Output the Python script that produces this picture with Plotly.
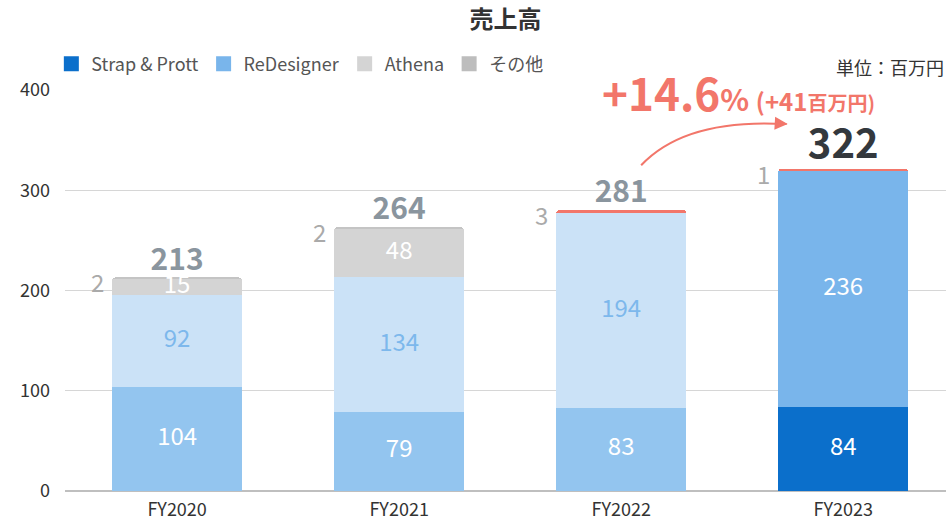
import plotly.graph_objects as go
import numpy as np

categories = ["FY2020", "FY2021", "FY2022", "FY2023"]
strap = [104, 79, 83, 84]
redesigner = [92, 134, 194, 236]
athena = [15, 48, 0, 0]
other = [2, 2, 3, 1]
totals = [213, 264, 281, 322]
y_ticks = [0, 100, 200, 300, 400]
growth_pct = "+14.6"
growth_abs = "+41"

FONT = "Noto Sans CJK JP"
SALMON = "#f2766a"
x = list(range(len(categories)))

strap_colors = ["#93c5ef", "#93c5ef", "#93c5ef", "#0b6fcb"]
red_colors = ["#cbe2f7", "#cbe2f7", "#cbe2f7", "#79b5eb"]
ath_colors = ["#d4d4d4"] * 4
oth_colors = ["#c4c4c4", "#c4c4c4", SALMON, SALMON]

fig = go.Figure()
series = [(strap, strap_colors), (redesigner, red_colors), (athena, ath_colors), (other, oth_colors)]
for vals, cols in series:
    fig.add_trace(go.Bar(x=x, y=vals, marker=dict(color=cols, line=dict(width=0)),
                         showlegend=False, hoverinfo="skip"))

# segment labels
base = np.zeros(len(x))
lab_x, lab_y, lab_t, lab_c = [], [], [], []
label_colors = [["#ffffff"] * 4, ["#7db8ec", "#7db8ec", "#7db8ec", "#ffffff"], ["#ffffff"] * 4]
for (vals, _), lc in zip(series[:3], label_colors):
    for i, v in enumerate(vals):
        if v > 0:
            lab_x.append(x[i]); lab_y.append(base[i] + v / 2); lab_t.append(str(v)); lab_c.append(lc[i])
    base = base + np.array(vals)
fig.add_trace(go.Scatter(x=lab_x, y=lab_y, text=lab_t, mode="text",
                         textfont=dict(family=FONT, size=24, color=lab_c),
                         showlegend=False, hoverinfo="skip", cliponaxis=False))

# totals
fig.add_trace(go.Scatter(x=x, y=totals, text=[f"<b>{t}</b>" for t in totals], mode="text",
                         textposition="top center",
                         textfont=dict(family=FONT, size=[30, 30, 30, 40],
                                       color=["#8a959e", "#8a959e", "#8a959e", "#33383d"]),
                         showlegend=False, hoverinfo="skip", cliponaxis=False))

# legend entries
legend_items = [("Strap & Prott", "#0b6fcb"), ("ReDesigner", "#79b5eb"), ("Athena", "#d4d4d4"), ("その他", "#bdbdbd")]
for name, col in legend_items:
    fig.add_trace(go.Scatter(x=[None], y=[None], mode="markers", name=name,
                             marker=dict(symbol="square", size=15, color=col)))

annotations = []
# small "other" labels left of the bar top
stack_top = np.array(strap) + np.array(redesigner) + np.array(athena) + np.array(other)
for i, v in enumerate(other):
    annotations.append(dict(x=x[i], y=stack_top[i], text=str(v), showarrow=False, xshift=-80, yshift=-4,
                            xanchor="center", yanchor="middle",
                            font=dict(family=FONT, size=24, color="#aaaaaa")))

annotations.append(dict(xref="paper", yref="paper", x=1, y=1.057, text="単位：百万円", showarrow=False,
                        xanchor="right", yanchor="middle", font=dict(family=FONT, size=18, color="#333333")))

annotations.append(dict(x=1.905, y=398, xanchor="left", yanchor="middle", showarrow=False,
                        text=(f"<b>{growth_pct}</b><span style='font-size:30px'><b>% </b></span>"
                              f"<span style='font-size:24px'><b>({growth_abs}</b></span>"
                              f"<span style='font-size:20px'><b>百万円)</b></span>"),
                        font=dict(family=FONT, size=44, color=SALMON)))

# arrow head
annotations.append(dict(x=2.75, y=366, ax=2.70, ay=366.7, axref="x", ayref="y", xref="x", yref="y",
                        text="", showarrow=True, arrowhead=2, arrowsize=1.3, arrowwidth=2,
                        arrowcolor=SALMON, standoff=0))

shapes = [dict(type="path", xref="x", yref="y", path="M 2.09,325 Q 2.29,372 2.745,366",
               line=dict(color=SALMON, width=2))]

fig.update_layout(
    width=946, height=523,
    barmode="stack", bargap=0.414, barcornerradius=3,
    plot_bgcolor="white", paper_bgcolor="white",
    margin=dict(l=65, r=0, t=90, b=32),
    font=dict(family=FONT, color="#333333"),
    title=dict(text="<b>売上高</b>", xref="paper", x=0.5, xanchor="center", y=0.962, yanchor="middle",
               font=dict(family=FONT, size=24, color="#333333")),
    legend=dict(orientation="h", traceorder="normal", x=-0.0155, xanchor="left", y=1.065, yanchor="middle",
                font=dict(family=FONT, size=18, color="#555555"), bgcolor="rgba(0,0,0,0)"),
    xaxis=dict(tickvals=x, ticktext=categories, range=[-0.505, 3.463], showgrid=False,
               tickfont=dict(family=FONT, size=18, color="#333333"), showline=False, zeroline=False,
               ticklabelstandoff=6),
    yaxis=dict(range=[0, 400], tickvals=y_ticks, showgrid=True, gridcolor="#d6d6d6", gridwidth=1,
               zeroline=True, zerolinecolor="#bfbfbf", zerolinewidth=1.5,
               tickfont=dict(family=FONT, size=18, color="#333333"), ticklabelstandoff=14),
    annotations=annotations, shapes=shapes,
)

fig.write_html("out.html", config={"displayModeBar": False},
               post_script="document.body.style.margin='0px';")
